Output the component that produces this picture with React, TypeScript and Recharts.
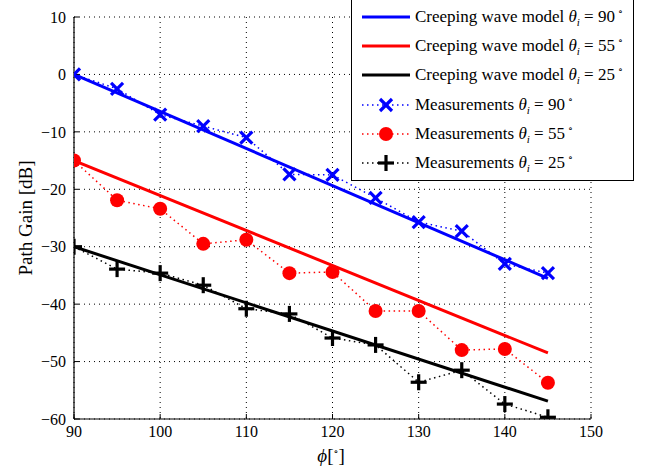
import React from "react";
import { LineChart, Line, XAxis, YAxis, CartesianGrid } from "recharts";

const PHI = [90, 95, 100, 105, 110, 115, 120, 125, 130, 135, 140, 145];
const MEAS_90 = [0, -2.5, -7, -9, -11, -17.4, -17.5, -21.5, -25.7, -27.3, -33, -34.6];
const MEAS_55 = [-15, -21.9, -23.4, -29.5, -28.8, -34.6, -34.4, -41.2, -41.2, -48, -47.8, -53.7];
const MEAS_25 = [-30, -33.9, -34.6, -36.7, -40.8, -41.7, -45.9, -47.1, -53.6, -51.5, -57.4, -59.7];

const MODEL_PHI = [90, 145];
const MODEL_90 = [0, -35.5];
const MODEL_55 = [-15, -48.5];
const MODEL_25 = [-30, -56.9];

const X_TICKS = [90, 100, 110, 120, 130, 140, 150];
const Y_TICKS = [10, 0, -10, -20, -30, -40, -50, -60];
const X_MINOR = [90, 92, 94, 96, 98, 100, 102, 104, 106, 108, 110, 112, 114, 116, 118, 120, 122, 124, 126, 128, 130, 132, 134, 136, 138, 140, 142, 144, 146, 148, 150];
const Y_MINOR = [10, 8, 6, 4, 2, 0, -2, -4, -6, -8, -10, -12, -14, -16, -18, -20, -22, -24, -26, -28, -30, -32, -34, -36, -38, -40, -42, -44, -46, -48, -50, -52, -54, -56, -58, -60];

const FONT = "'Liberation Serif', 'DejaVu Serif', serif";
const BLUE = "#0000ff";
const RED = "#ff0000";
const BLACK = "#000000";

const pts = (xs: number[], ys: number[]) => xs.map((x, i) => ({ x, y: ys[i] }));

const fmt = (v: number) => (v < 0 ? `\u2212${-v}` : `${v}`);

const Cross = ({ cx, cy, color, s = 6 }: any) => (
  <g stroke={color} strokeWidth={3.2} strokeLinecap="butt">
    <line x1={cx - s} y1={cy - s} x2={cx + s} y2={cy + s} />
    <line x1={cx - s} y1={cy + s} x2={cx + s} y2={cy - s} />
  </g>
);

const Plus = ({ cx, cy, color, s = 8 }: any) => (
  <g stroke={color} strokeWidth={3.2}>
    <line x1={cx - s} y1={cy} x2={cx + s} y2={cy} />
    <line x1={cx} y1={cy - s} x2={cx} y2={cy + s} />
  </g>
);

const Disc = ({ cx, cy, color, r = 7 }: any) => <circle cx={cx} cy={cy} r={r} fill={color} />;

const dotFor = (kind: string, color: string) => (props: any) => {
  const { cx, cy, index } = props;
  if (cx == null || cy == null) return <g key={index} />;
  if (kind === "x") return <Cross key={index} cx={cx} cy={cy} color={color} />;
  if (kind === "o") return <Disc key={index} cx={cx} cy={cy} color={color} />;
  return <Plus key={index} cx={cx} cy={cy} color={color} />;
};

const legendRows = [
  { label: "Creeping wave model", val: "90", color: BLUE, kind: "line" },
  { label: "Creeping wave model", val: "55", color: RED, kind: "line" },
  { label: "Creeping wave model", val: "25", color: BLACK, kind: "line" },
  { label: "Measurements", val: "90", color: BLUE, kind: "x" },
  { label: "Measurements", val: "55", color: RED, kind: "o" },
  { label: "Measurements", val: "25", color: BLACK, kind: "+" },
];

function LegendBox() {
  return (
    <div
      style={{
        position: "absolute",
        left: 351,
        top: -1,
        width: 281,
        height: 180,
        border: "1px solid #000",
        background: "#fff",
        fontFamily: FONT,
        fontSize: 17,
      }}
    >
      {legendRows.map((r, i) => (
        <div
          key={i}
          style={{ position: "absolute", left: 0, top: 17 + i * 29.2 - 11, height: 22, display: "flex", alignItems: "center" }}
        >
          <svg width={60} height={22} style={{ display: "block" }}>
            {r.kind === "line" ? (
              <line x1={10} y1={11} x2={58} y2={11} stroke={r.color} strokeWidth={3} />
            ) : (
              <g>
                <line x1={10} y1={11} x2={58} y2={11} stroke={r.color} strokeWidth={1.5} strokeDasharray="1.5 3.5" />
                {r.kind === "x" && <Cross cx={34} cy={11} color={r.color} />}
                {r.kind === "o" && <Disc cx={34} cy={11} color={r.color} />}
                {r.kind === "+" && <Plus cx={34} cy={11} color={r.color} />}
              </g>
            )}
          </svg>
          <span style={{ marginLeft: 3, whiteSpace: "nowrap" }}>
            {r.label} <i>θ</i>
            <sub style={{ fontSize: 11, fontStyle: "italic" }}>i</sub> = {r.val}
            <sup style={{ fontSize: 10, marginLeft: 3 }}>∘</sup>
          </span>
        </div>
      ))}
    </div>
  );
}

export default function App() {
  const tickStyle = { fill: "#000", fontSize: 16, fontFamily: FONT };
  return (
    <div style={{ position: "absolute", left: 0, top: 0, width: 645, height: 470, background: "#fff" }}>
      <LineChart width={645} height={470} margin={{ top: 17, right: 54, left: 72, bottom: 49 }}>
        <CartesianGrid stroke="#000" strokeDasharray="1 4" strokeWidth={1} />
        <XAxis
          dataKey="x"
          type="number"
          domain={[90, 150]}
          ticks={X_TICKS}
          height={1}
          tickSize={-5}
          tickMargin={12}
          tick={tickStyle}
          tickLine={{ stroke: "#000" }}
          axisLine={{ stroke: "#000", strokeWidth: 1.2 }}
          allowDataOverflow
        />
        <XAxis
          xAxisId="minor"
          dataKey="x"
          type="number"
          domain={[90, 150]}
          ticks={X_MINOR}
          height={1}
          tickSize={-3}
          tickFormatter={() => ""}
          tickLine={{ stroke: "#000" }}
          axisLine={false}
        />
        <YAxis
          type="number"
          domain={[-60, 10]}
          ticks={Y_TICKS}
          width={1}
          tickSize={-5}
          tickMargin={13}
          tick={tickStyle}
          tickFormatter={fmt}
          tickLine={{ stroke: "#000" }}
          axisLine={{ stroke: "#000", strokeWidth: 1.2 }}
          allowDataOverflow
        />
        <YAxis
          yAxisId="minor"
          type="number"
          domain={[-60, 10]}
          ticks={Y_MINOR}
          width={1}
          tickSize={-3}
          tickFormatter={() => ""}
          tickLine={{ stroke: "#000" }}
          axisLine={false}
        />
        <Line data={pts(MODEL_PHI, MODEL_90)} dataKey="y" stroke={BLUE} strokeWidth={3} dot={false} isAnimationActive={false} />
        <Line data={pts(MODEL_PHI, MODEL_55)} dataKey="y" stroke={RED} strokeWidth={3} dot={false} isAnimationActive={false} />
        <Line data={pts(MODEL_PHI, MODEL_25)} dataKey="y" stroke={BLACK} strokeWidth={3} dot={false} isAnimationActive={false} />
        <Line
          data={pts(PHI, MEAS_90)}
          dataKey="y"
          stroke={BLUE}
          strokeWidth={1.5}
          strokeDasharray="1.5 3.5"
          dot={dotFor("x", BLUE)}
          isAnimationActive={false}
        />
        <Line
          data={pts(PHI, MEAS_55)}
          dataKey="y"
          stroke={RED}
          strokeWidth={1.5}
          strokeDasharray="1.5 3.5"
          dot={dotFor("o", RED)}
          isAnimationActive={false}
        />
        <Line
          data={pts(PHI, MEAS_25)}
          dataKey="y"
          stroke={BLACK}
          strokeWidth={1.5}
          strokeDasharray="1.5 3.5"
          dot={dotFor("+", BLACK)}
          isAnimationActive={false}
        />
      </LineChart>
      <div
        style={{
          position: "absolute",
          left: 26,
          top: 218,
          transform: "translate(-50%, -50%) rotate(-90deg)",
          whiteSpace: "nowrap",
          fontFamily: FONT,
          fontSize: 19,
        }}
      >
        Path Gain [dB]
      </div>
      <div
        style={{
          position: "absolute",
          left: 331,
          top: 456,
          transform: "translate(-50%, -50%)",
          whiteSpace: "nowrap",
          fontFamily: FONT,
          fontSize: 19,
        }}
      >
        <i>ϕ</i>[<sup style={{ fontSize: 10 }}>∘</sup>]
      </div>
      <LegendBox />
    </div>
  );
}
